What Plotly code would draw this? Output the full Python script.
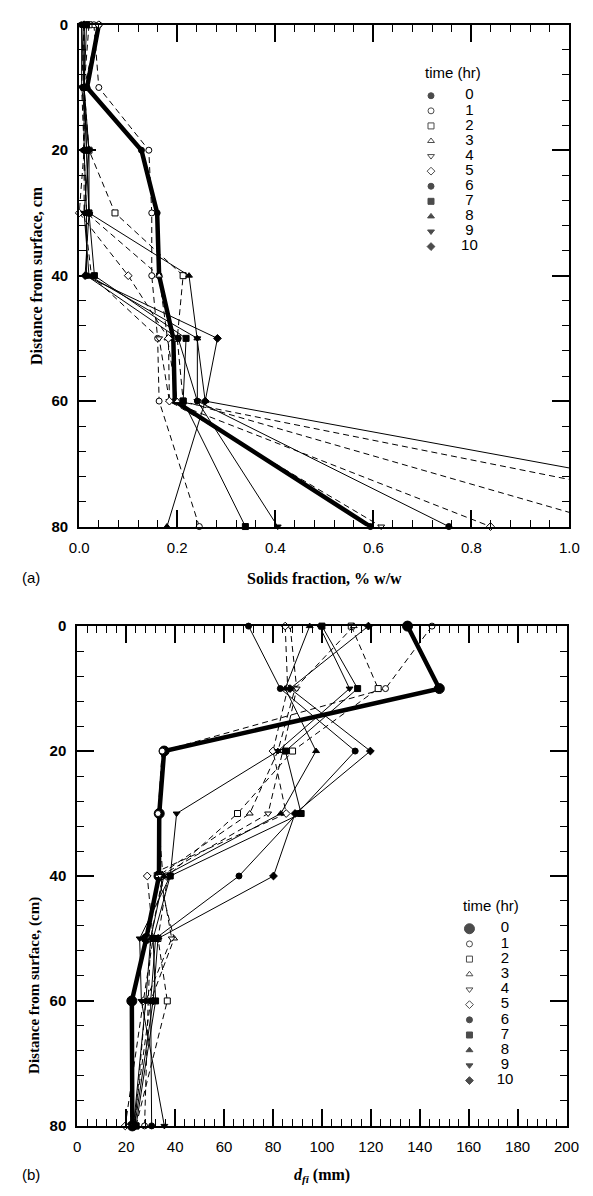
import plotly.graph_objects as go

# Sampling depths (cm below surface) and sampling times (hr)
depth_cm = [0, 10, 20, 30, 40, 50, 60, 80]
times_hr = [0, 1, 2, 3, 4, 5, 6, 7, 8, 9, 10]

# (a) solids fraction, % w/w, per sampling time
solids_t0 = [0.040, 0.016, 0.127, 0.159, 0.163, 0.192, 0.195, 0.594]
solids_t1 = [0.030, 0.040, 0.142, 0.148, 0.148, 0.160, 0.163, 0.245]
solids_t2 = [0.020, 0.010, 0.020, 0.073, 0.212, 0.200, 0.212, 1.10]
solids_t3 = [0.010, 0.010, 0.010, 0.015, 0.163, 0.180, 0.200, 1.48]
solids_t4 = [0.010, 0.005, 0.010, 0.010, 0.025, 0.163, 0.184, 0.616]
solids_t5 = [0.040, 0.010, 0.010, 0.000, 0.100, 0.182, 0.184, 0.839]
solids_t6 = [0.005, 0.010, 0.010, 0.015, 0.015, 0.202, 0.241, 0.754]
solids_t7 = [0.015, 0.010, 0.015, 0.020, 0.031, 0.218, 0.212, 0.339]
solids_t8 = [0.010, 0.010, 0.015, 0.020, 0.224, 0.241, 0.257, 0.179]
solids_t9 = [0.005, 0.005, 0.020, 0.010, 0.020, 0.241, 0.241, 0.405]
solids_t10 = [0.010, 0.010, 0.020, 0.020, 0.012, 0.282, 0.257, 1.65]

# (b) floc size d_fi, mm, per sampling time
dfi_t0 = [135, 148, 35.5, 33.5, 33.4, 28.2, 22.3, 22.5]
dfi_t1 = [145, 126, 34.7, 33.0, 35.0, 30.0, 29.0, 27.5]
dfi_t2 = [112, 123, 88, 65.5, 37.0, 33.0, 36.8, 24.0]
dfi_t3 = [113, 89, 82, 70.5, 33.0, 39.6, 30.0, 23.0]
dfi_t4 = [87, 89.7, 84, 78, 34.0, 38.6, 28.0, 23.5]
dfi_t5 = [85, 86, 80, 85.4, 28.6, 31.0, 27.0, 19.6]
dfi_t6 = [70, 83, 113.6, 90, 66.1, 32.0, 30.0, 30.4]
dfi_t7 = [100, 114.6, 85.1, 91.5, 38.0, 31.0, 32.0, 24.0]
dfi_t8 = [95, 85, 97.6, 83.2, 35.4, 30.0, 28.0, 23.0]
dfi_t9 = [99, 111.3, 82, 40.6, 38.0, 25.5, 26.2, 35.6]
dfi_t10 = [119, 87, 119.8, 89, 80.2, 33.0, 31.0, 23.5]

solids_series = [solids_t0, solids_t1, solids_t2, solids_t3, solids_t4, solids_t5,
                 solids_t6, solids_t7, solids_t8, solids_t9, solids_t10]
dfi_series = [dfi_t0, dfi_t1, dfi_t2, dfi_t3, dfi_t4, dfi_t5,
              dfi_t6, dfi_t7, dfi_t8, dfi_t9, dfi_t10]

# marker shape / fill and line dash for each time
shapes = ["circle", "circle", "square", "triangle-up", "triangle-down", "diamond",
          "circle", "square", "triangle-up", "triangle-down", "diamond"]
filled = [True, False, False, False, False, False, True, True, True, True, True]
dashes = ["solid", "6px,4px", "6px,4px", "6px,4px", "6px,4px", "6px,4px",
          "solid", "solid", "solid", "solid", "solid"]

W, H = 593, 1196
SANS = "Liberation Sans"
SERIF = "Liberation Serif"


def px_x(p):
    return p / W


def px_y(p):
    return 1 - p / H


def marker_style(i, size):
    return dict(symbol=shapes[i], size=size,
                color="black" if filled[i] else "white",
                line=dict(color="black", width=1))


fig = go.Figure()

for i, t in enumerate(times_hr):
    thick = (i == 0)
    fig.add_trace(go.Scatter(
        x=solids_series[i], y=depth_cm, mode="lines+markers",
        line=dict(color="black", width=4.5 if thick else 1, dash=dashes[i]),
        marker=marker_style(i, 6), cliponaxis=False, showlegend=False,
        xaxis="x", yaxis="y", name=f"{t} hr"))
    fig.add_trace(go.Scatter(
        x=dfi_series[i], y=depth_cm, mode="lines+markers",
        line=dict(color="black", width=4.5 if thick else 1, dash=dashes[i]),
        marker=marker_style(i, 10 if thick else 6), cliponaxis=False, showlegend=False,
        xaxis="x2", yaxis="y2", name=f"{t} hr"))

# key: one row per sampling time, symbol on the left and the time on the right
rows = list(range(len(times_hr)))
key_labels = [str(t) for t in times_hr]
key_colors = ["black" if f else "white" for f in filled]
for xa, ya, first_size in (("x3", "y3", 6), ("x4", "y4", 10)):
    fig.add_trace(go.Scatter(
        x=[0] * len(rows), y=rows, mode="markers", xaxis=xa, yaxis=ya,
        marker=dict(symbol=shapes, size=[first_size] + [6] * (len(rows) - 1),
                    color=key_colors, line=dict(color="black", width=1)),
        cliponaxis=False, showlegend=False, hoverinfo="skip"))
    fig.add_trace(go.Scatter(
        x=[1] * len(rows), y=rows, mode="text", text=key_labels, xaxis=xa, yaxis=ya,
        textposition="middle center",
        textfont=dict(family=SANS, size=15, color="black"),
        cliponaxis=False, showlegend=False, hoverinfo="skip"))

axis_common = dict(showline=True, linewidth=2, linecolor="black", mirror="ticks",
                   ticks="inside", ticklen=17, tickwidth=1.5, tickcolor="black",
                   showgrid=False, zeroline=False, ticklabelstandoff=6)
minor_common = dict(ticks="inside", ticklen=7, tickwidth=1, tickcolor="black")
key_axis = dict(visible=False, showgrid=False, zeroline=False, fixedrange=True)

fig.update_layout(
    width=W, height=H, margin=dict(l=0, r=0, t=0, b=0),
    paper_bgcolor="white", plot_bgcolor="rgba(0,0,0,0)", showlegend=False,
    xaxis=dict(domain=[px_x(72), px_x(582)], range=[0, 1], dtick=0.2, tickformat=".1f",
               minor=dict(dtick=0.04, **minor_common),
               tickfont=dict(family=SANS, size=15, color="black"), anchor="y", **axis_common),
    yaxis=dict(domain=[px_y(525), px_y(16)], range=[80, 0], dtick=20,
               minor=dict(dtick=4, **minor_common),
               tickfont=dict(family=SANS, size=15, color="black", weight="bold"),
               anchor="x", **axis_common),
    xaxis2=dict(domain=[px_x(70), px_x(579)], range=[0, 200], dtick=20,
                minor=dict(dtick=4, **minor_common),
                tickfont=dict(family=SANS, size=15, color="black"), anchor="y2", **axis_common),
    yaxis2=dict(domain=[px_y(1133), px_y(626)], range=[80, 0], dtick=20,
                minor=dict(dtick=4, **minor_common),
                tickfont=dict(family=SANS, size=15, color="black", weight="bold"),
                anchor="x2", **axis_common),
    xaxis3=dict(domain=[px_x(438), px_x(478)], range=[0, 1], anchor="y3", **key_axis),
    yaxis3=dict(domain=[px_y(241), px_y(88)], range=[len(rows) - 1, 0], anchor="x3", **key_axis),
    xaxis4=dict(domain=[px_x(478), px_x(515)], range=[0, 1], anchor="y4", **key_axis),
    yaxis4=dict(domain=[px_y(1087), px_y(933)], range=[len(rows) - 1, 0], anchor="x4", **key_axis),
)

annotations = [
    dict(text="Distance from surface, cm", x=px_x(27), y=px_y(270), textangle=-90,
         font=dict(family=SERIF, size=16, color="black", weight="bold")),
    dict(text="Solids fraction, % w/w", x=px_x(327), y=px_y(578),
         font=dict(family=SERIF, size=16, color="black", weight="bold")),
    dict(text="(a)", x=px_x(22), y=px_y(577), font=dict(family=SANS, size=15, color="black")),
    dict(text="time (hr)", x=px_x(461), y=px_y(64), font=dict(family=SANS, size=15, color="black")),
    dict(text="Distance from surface, (cm)", x=px_x(26), y=px_y(990), textangle=-90,
         font=dict(family=SERIF, size=15, color="black", weight="bold")),
    dict(text="<i>d<sub>fi</sub></i> (mm)", x=px_x(325), y=px_y(1183),
         font=dict(family=SERIF, size=16, color="black", weight="bold")),
    dict(text="(b)", x=px_x(22), y=px_y(1182), font=dict(family=SANS, size=15, color="black")),
    dict(text="time (hr)", x=px_x(500), y=px_y(909), font=dict(family=SANS, size=15, color="black")),
]
for a in annotations:
    a.update(xref="paper", yref="paper", showarrow=False, xanchor="center", yanchor="middle")
fig.update_layout(annotations=annotations)

fig.write_html("out.html")
